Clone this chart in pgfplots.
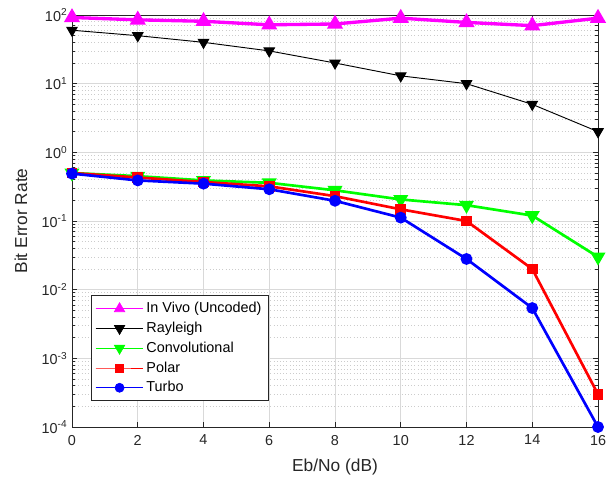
\documentclass[border=0pt]{standalone}
\usepackage{pgfplots}
\pgfplotsset{compat=1.18}
\usepackage{fontspec}
\setmainfont{Liberation Sans}
\definecolor{axgray}{rgb}{0.15,0.15,0.15}
\definecolor{mgreen}{rgb}{0,1,0}
\definecolor{mmag}{rgb}{1,0,1}
\definecolor{mred}{rgb}{1,0,0}
\definecolor{mblue}{rgb}{0,0,1}
\begin{document}
\begin{tikzpicture}
\begin{axis}[
  scale only axis,
  width=394.5pt, height=309pt,
  ymode=log,
  xmin=0, xmax=16, ymin=1e-4, ymax=1e2,
  xtick={0,2,...,16},
  ytick={1e-4,1e-3,1e-2,1e-1,1e0,1e1,1e2},
  yticklabels={10\textsuperscript{-4},10\textsuperscript{-3},10\textsuperscript{-2},10\textsuperscript{-1},10\textsuperscript{0},10\textsuperscript{1},10\textsuperscript{2}},
  /pgf/number format/assume math mode=true,
  tick label style={font=\fontsize{10.8}{12}\selectfont, text=axgray},
  xticklabel style={yshift=-2.5pt},
  label style={font=\fontsize{13}{15}\selectfont, text=axgray},
  xlabel={Eb/No (dB)},
  ylabel={Bit Error Rate},
  xlabel style={at={(axis description cs:0.5,-0.097)}, anchor=center},
  ylabel style={at={(axis description cs:-0.097,0.5)}, anchor=center},
  axis line style={axgray, line width=0.6pt},
  tick style={axgray, line width=0.5pt},
  tick align=inside,
  major tick length=4pt, minor tick length=2pt,
  grid=both,
  major grid style={gray!30, line width=0.5pt},
  minor y grid style={gray!40, dotted, line width=0.5pt},
  minor x tick num=0,
  legend style={at={(0.036,0.063)}, anchor=south west, font=\fontsize{10.8}{12}\selectfont,
    draw=axgray, line width=0.6pt, fill=white, row sep=1.5pt, inner xsep=3pt, inner ysep=3pt, cells={anchor=west}},
  legend cell align=left,
  legend image code/.code={
    \draw[mark repeat=2,mark phase=2, line width=0.5pt] plot coordinates {(0cm,0cm) (0.63cm,0cm) (1.26cm,0cm)};
  },
]
\addplot[mmag, line width=2.5pt, mark=triangle*, mark size=4.5pt, mark options={solid}] coordinates {
 (0,92) (2,85) (4,81) (6,72) (8,74) (10,90) (12,78) (14,70) (16,90)};
\addlegendentry{In Vivo (Uncoded)}
\addplot[black, line width=0.7pt, mark=triangle*, mark size=4.5pt, mark options={rotate=180}] coordinates {
 (0,60) (2,50) (4,40) (6,30) (8,20) (10,13) (12,10) (14,5) (16,2)};
\addlegendentry{Rayleigh}
\addplot[mgreen, line width=2pt, mark=triangle*, mark size=4.5pt, mark options={rotate=180}] coordinates {
 (0,0.5) (2,0.45) (4,0.39) (6,0.36) (8,0.28) (10,0.206) (12,0.17) (14,0.12) (16,0.030)};
\addlegendentry{Convolutional}
\addplot[mred, line width=2pt, mark=square*, mark size=3.1pt] coordinates {
 (0,0.5) (2,0.43) (4,0.37) (6,0.32) (8,0.23) (10,0.148) (12,0.1) (14,0.02) (16,0.0003)};
\addlegendentry{Polar}
\addplot[mblue, line width=2pt, mark=*, mark size=3.4pt] coordinates {
 (0,0.49) (2,0.39) (4,0.35) (6,0.29) (8,0.197) (10,0.112) (12,0.028) (14,0.0054) (16,0.0001)};
\addlegendentry{Turbo}
\end{axis}
\pgfresetboundingbox
\path[use as bounding box] ([xshift=-54pt,yshift=-39pt]current axis.south west) rectangle ([xshift=11.25pt,yshift=11.25pt]current axis.north east);
\end{tikzpicture}
\end{document}
